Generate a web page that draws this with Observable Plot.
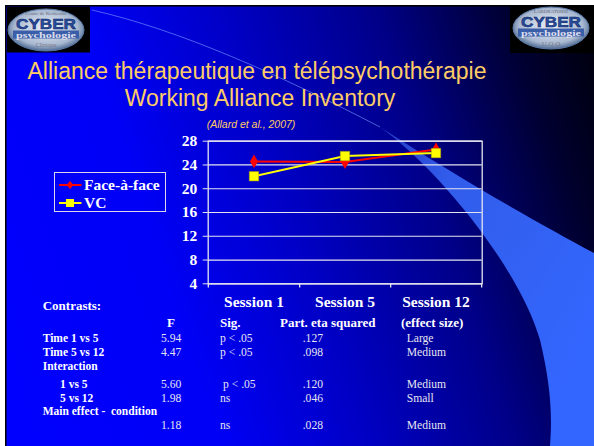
<!DOCTYPE html>
<html>
<head>
<meta charset="utf-8">
<script src="https://cdn.jsdelivr.net/npm/d3@7"></script>
<script src="https://cdn.jsdelivr.net/npm/@observablehq/plot@0.6"></script>
<style>
  html, body { margin: 0; padding: 0; background: #fff; }
  #slide { position: relative; width: 594px; height: 446px; overflow: hidden;
    background: linear-gradient(72deg, #0000ff 0%, #0000f6 30%, #0000c4 50%, #000088 70%, #000030 88%, #000008 100%); }
  .abs { position: absolute; white-space: pre; }
  .title { font-family: "Liberation Sans", Arial, sans-serif; color: #ffcc66; font-size: 23px; width: 594px; text-align: center; left: -40px; }
  .serif { font-family: "Liberation Serif", "Times New Roman", serif; color: #fff; }
  .b { font-weight: bold; }
  #plot { position: absolute; left: 0; top: 0; }
</style>
</head>
<body>
<div id="slide">
  <svg class="abs" style="left:0;top:0" width="594" height="446">
    <defs>
      <linearGradient id="sw" x1="0" y1="0" x2="1" y2="0.6">
        <stop offset="0" stop-color="#4a7cff" stop-opacity="0.45"/>
        <stop offset="0.3" stop-color="#3a6cff" stop-opacity="0.85"/>
        <stop offset="1" stop-color="#3366ff" stop-opacity="1"/>
      </linearGradient>
      <radialGradient id="lg" cx="0.5" cy="0.45" r="0.6">
        <stop offset="0" stop-color="#eef2fa"/>
        <stop offset="0.7" stop-color="#a8b8d0"/>
        <stop offset="1" stop-color="#2a4a7a"/>
      </radialGradient>
    </defs>
    <path d="M380,127 C440,170 520,270 540,340 C552,390 552,420 550,446 L594,446 L594,253 C540,224 470,185 380,127 Z" fill="url(#sw)"/>
    <path d="M92,10 C180,30 280,75 380,127" fill="none" stroke="#7fa0ff" stroke-opacity="0.6" stroke-width="1"/>
    <!-- frame strips -->
    <rect x="0" y="0" width="594" height="5" fill="#fff"/>
    <rect x="0" y="0" width="5" height="446" fill="#fff"/>
    <rect x="5" y="5" width="589" height="1.5" fill="#000"/>
    <rect x="5" y="5" width="1.5" height="441" fill="#000"/>
    <!-- left logo -->
    <rect x="7" y="6.5" width="83" height="46" fill="#000"/>
    <ellipse cx="46" cy="30" rx="38" ry="21" fill="url(#lg)" stroke="#5a7aa8" stroke-width="1"/>
    <text x="46" y="15" text-anchor="middle" font-family="Liberation Serif" font-size="5" fill="#667">Centre de Recherche</text>
    <text x="46" y="29" text-anchor="middle" font-family="Liberation Sans" font-weight="bold" font-size="15" fill="#2a4f9f" stroke="#0a1f5f" stroke-width="0.5" textLength="60" lengthAdjust="spacingAndGlyphs">CYBER</text>
    <rect x="13" y="30.5" width="66" height="8" fill="#3a5fa8"/>
    <text x="46" y="37.5" text-anchor="middle" font-family="Liberation Serif" font-weight="bold" font-size="8" fill="#dde" textLength="60" lengthAdjust="spacingAndGlyphs">psychologie</text>
    <text x="46" y="47" text-anchor="middle" font-family="Liberation Serif" font-size="6" fill="#778">Clinique</text>
    <!-- right logo -->
    <rect x="510" y="5" width="84" height="48" fill="#000"/>
    <ellipse cx="551" cy="28" rx="38" ry="21" fill="url(#lg)" stroke="#5a7aa8" stroke-width="1"/>
    <text x="551" y="13" text-anchor="middle" font-family="Liberation Serif" font-size="5" fill="#667">LABORATOIRE</text>
    <text x="551" y="27" text-anchor="middle" font-family="Liberation Sans" font-weight="bold" font-size="15" fill="#2a4f9f" stroke="#0a1f5f" stroke-width="0.5" textLength="60" lengthAdjust="spacingAndGlyphs">CYBER</text>
    <rect x="518" y="28.5" width="66" height="8" fill="#3a5fa8"/>
    <text x="551" y="35.5" text-anchor="middle" font-family="Liberation Serif" font-weight="bold" font-size="8" fill="#dde" textLength="60" lengthAdjust="spacingAndGlyphs">psychologie</text>
    <text x="551" y="46" text-anchor="middle" font-family="Liberation Serif" font-size="7" fill="#778">U.Q.O</text>
  </svg>
  <div id="plot"></div>
  <div class="abs title" style="top:58px">Alliance thérapeutique en télépsychothérapie</div>
  <div class="abs title" style="top:85px;left:-37px">Working Alliance Inventory</div>
  <div class="abs title" style="top:118px;left:-46px;font-size:10.5px;font-style:italic;">(Allard et al., 2007)</div>
  <div id="legend" class="abs" style="left:54px;top:172px;width:110px;height:38px;border:1px solid #d8d8e8;"></div>
  <div id="table"></div>
</div>
<script>
// ---- chart data ----
const sessions = ["Session 1", "Session 5", "Session 12"];
const seriesNames = ["Face-à-face", "VC"];
const faceAFace = [24.6, 24.5, 26.6];
const vc = [22.1, 25.5, 26.0];
const seriesColors = ["#ff0000", "#ffff00"];
const seriesSymbols = ["diamond", "square"];
const yTicks = [4, 8, 12, 16, 20, 24, 28];

// ---- table data ----
const contrastLabels = ["Time 1 vs 5", "Time 5 vs 12", "Interaction", "1 vs 5", "5 vs 12", "Main effect -  condition", ""];
const contrastIndent = [false, false, false, true, true, false, false];
const fValues = ["5.94", "4.47", "", "5.60", "1.98", "", "1.18"];
const sigValues = ["p < .05", "p < .05", "", "p < .05", "ns", "", "ns"];
const etaValues = [".127", ".098", "", ".120", ".046", "", ".028"];
const effectSizes = ["Large", "Medium", "", "Medium", "Small", "", "Medium"];
const tableHeaders = ["F", "Sig.", "Part. eta squared", "(effect size)"];

const rows = [];
seriesNames.forEach((s, i) => {
  const vals = i === 0 ? faceAFace : vc;
  sessions.forEach((x, j) => rows.push({series: s, session: x, value: vals[j]}));
});

const W = 594, H = 446;
const mL = 207.7, mR = W - 481.7, mT = 140.7, mB = H - 283.3;
const bw = (W - mL - mR) / sessions.length;
const axisColor = "#e4e4f0";

const chart = Plot.plot({
  width: W, height: H,
  marginLeft: mL, marginRight: mR, marginTop: mT, marginBottom: mB,
  style: {background: "transparent", color: "#fff", fontFamily: "Liberation Serif, serif", fontSize: "15.5px", fontWeight: "bold", overflow: "visible"},
  x: {type: "band", domain: sessions, padding: 0},
  y: {domain: [4, 28]},
  color: {domain: seriesNames, range: seriesColors},
  symbol: {domain: seriesNames, range: seriesSymbols},
  marks: [
    Plot.gridY(yTicks, {stroke: axisColor, strokeOpacity: 1, strokeWidth: 1.2}),
    Plot.frame({stroke: axisColor, strokeWidth: 1.3}),
    Plot.ruleX(sessions, {x: d => d, dx: bw / 2, y1: 4, y2: 3.3, stroke: axisColor, strokeWidth: 1.3}),
    Plot.ruleX([sessions[0]], {x: d => d, dx: -bw / 2, y1: 4, y2: 3.3, stroke: axisColor, strokeWidth: 1.3}),
    Plot.axisY({ticks: yTicks, tickSize: 5, tickPadding: 6, label: null, stroke: axisColor, fill: "#fff", fontWeight: "bold", fontSize: 15.5}),
    Plot.axisX({tickSize: 0, tickPadding: 12, label: null, fill: "#fff", fontWeight: "bold", fontSize: 15.5}),
    Plot.line(rows, {x: "session", y: "value", z: "series", stroke: "series", strokeWidth: 2}),
    Plot.dot(rows, {filter: d => d.series === seriesNames[0], x: "session", y: "value", symbol: "series", fill: "series", r: 4.2, stroke: null}),
    Plot.dot(rows, {filter: d => d.series === seriesNames[1], x: "session", y: "value", symbol: "series", fill: "series", r: 5.3, stroke: "#b0a000", strokeWidth: 0.5})
  ]
});
document.getElementById("plot").appendChild(chart);

// ---- legend ----
const legend = document.getElementById("legend");
seriesNames.forEach((s, i) => {
  const row = document.createElement("div");
  row.style.cssText = "position:absolute;left:4px;top:" + (3 + i * 18.5) + "px;height:17px;display:flex;align-items:center;";
  const sym = seriesSymbols[i] === "diamond"
    ? '<path d="M11,4 L14.5,8 L11,12 L7.5,8 Z" fill="' + seriesColors[i] + '"/>'
    : '<rect x="7" y="4" width="8" height="8" fill="' + seriesColors[i] + '"/>';
  row.innerHTML = '<svg width="23" height="16"><line x1="0" x2="22.5" y1="8" y2="8" stroke="' + seriesColors[i] + '" stroke-width="2"/>' + sym + '</svg>' +
    '<span class="serif b" style="font-size:15.5px;margin-left:2px;">' + s + '</span>';
  legend.appendChild(row);
});

// ---- table ----
const table = document.getElementById("table");
function put(text, x, baseline, size, bold, color) {
  const d = document.createElement("div");
  d.className = "abs serif" + (bold ? " b" : "");
  d.style.left = x + "px";
  d.style.top = (baseline - size * 0.9) + "px";
  d.style.fontSize = size + "px";
  d.style.lineHeight = size + "px";
  if (color) d.style.color = color;
  d.textContent = text;
  table.appendChild(d);
}
put("Contrasts:", 42.7, 311, 13, true);
const headerX = [167, 220, 280, 401];
tableHeaders.forEach((h, i) => put(h, headerX[i], 327.5, 13, true));
const rowBase = [343.3, 357.3, 371.7, 389, 403.3, 416.7, 430.7];
const valColor = "#e6e6ee";
contrastLabels.forEach((lab, i) => {
  if (lab) put(lab, contrastIndent[i] ? 60 : 42.7, rowBase[i], 11.5, true);
  if (fValues[i]) put(fValues[i], 161, rowBase[i], 11.6, false, valColor);
  if (sigValues[i]) put(sigValues[i], i === 3 ? 223 : 220, rowBase[i], 11.6, false, valColor);
  if (etaValues[i]) put(etaValues[i], 302.7, rowBase[i], 11.6, false, valColor);
  if (effectSizes[i]) put(effectSizes[i], 406.7, rowBase[i], 11.6, false, valColor);
});
</script>
</body>
</html>
